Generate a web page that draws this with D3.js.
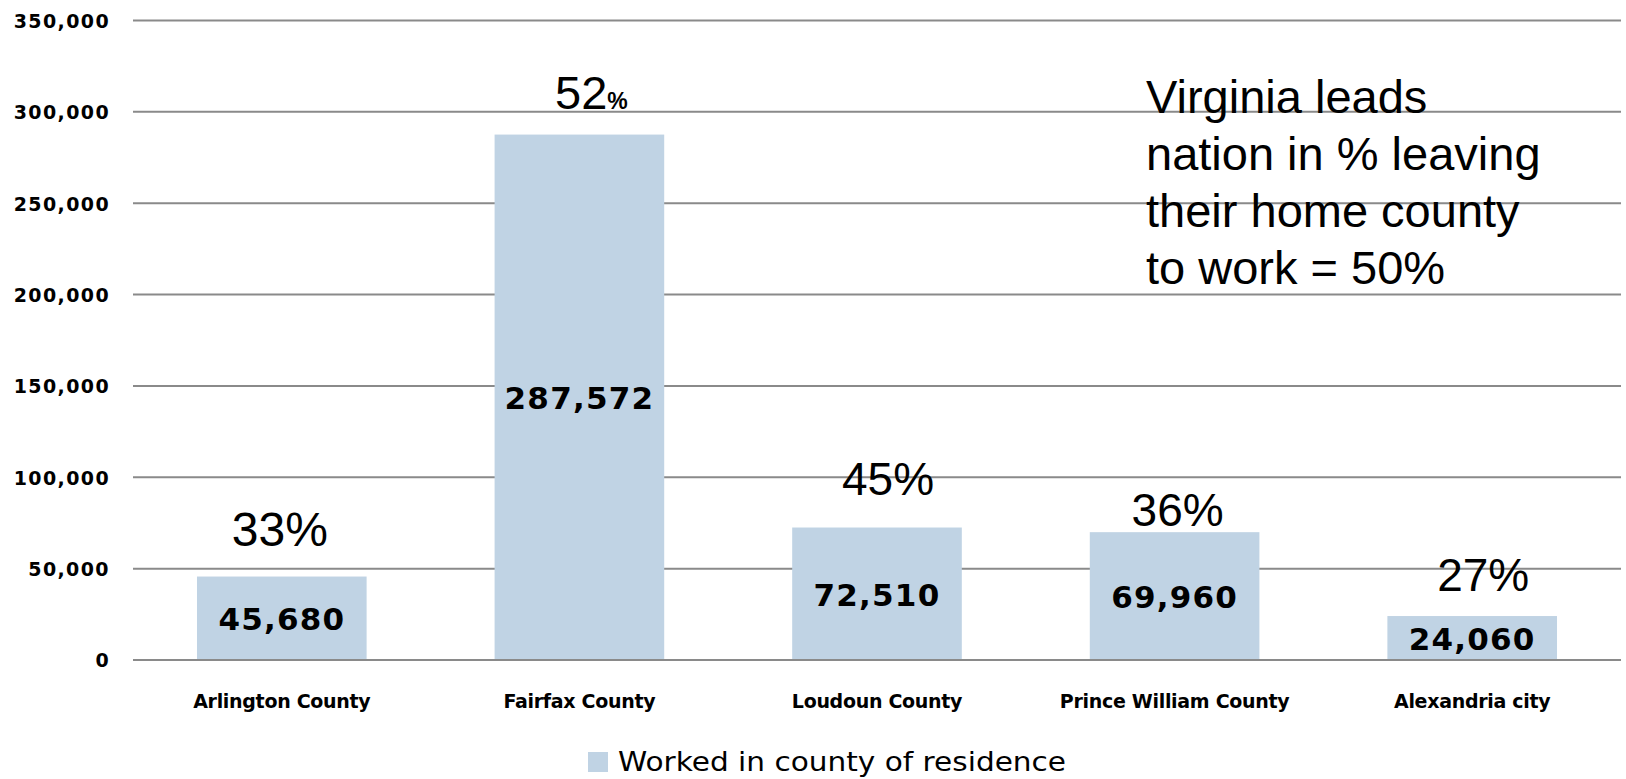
<!DOCTYPE html>
<html>
<head>
<meta charset="utf-8">
<script src="https://cdn.jsdelivr.net/npm/d3@7"></script>
<style>
  html, body { margin: 0; padding: 0; background: #fff; }
  svg { display: block; }
</style>
</head>
<body>
<svg id="chart" width="1626" height="779"></svg>
<script>
// ---- data ----
const categories = ["Arlington County", "Fairfax County", "Loudoun County", "Prince William County", "Alexandria city"];
const workedInCounty = [45680, 287572, 72510, 69960, 24060];
const valueLabels = ["45,680", "287,572", "72,510", "69,960", "24,060"];
const pctNumbers = ["33", "52", "45", "36", "27"];
const yTicks = [0, 50000, 100000, 150000, 200000, 250000, 300000, 350000];
const seriesName = "Worked in county of residence";
const noteLines = ["Virginia leads", "nation in % leaving", "their home county", "to work = 50%"];

// label placement nudges (layout, relative to bar top/centre)
const pctDx = [-2, 12, 11, 3, 11];
const pctDy = [-31, -26, -33, -6, -25];

// ---- layout ----
const svg = d3.select("#chart");
const plotLeft = 133, plotRight = 1621, plotTop = 20.5, plotBottom = 660;
const barColor = "#c0d3e4";
const gridColor = "#8a8a8a";

const x = d3.scaleBand().domain(categories).range([plotLeft, plotRight]).paddingInner(0.43).paddingOuter(0.215);
const y = d3.scaleLinear().domain([0, 350000]).range([plotBottom, plotTop]);

// gridlines
svg.append("g").selectAll("line").data(yTicks).join("line")
  .attr("x1", plotLeft).attr("x2", plotRight)
  .attr("y1", d => y(d)).attr("y2", d => y(d))
  .attr("stroke", gridColor).attr("stroke-width", 2);

// y axis labels
const yAxis = d3.axisLeft(y).tickValues(yTicks).tickSize(0).tickPadding(0)
  .tickFormat(d3.format(","));
svg.append("g").attr("transform", `translate(110,0)`).call(yAxis)
  .call(g => g.select(".domain").remove())
  .selectAll("text")
  .attr("font-family", "'DejaVu Sans'")
  .attr("font-weight", "bold")
  .attr("font-size", 19)
  .attr("letter-spacing", 1.4)
  .attr("fill", "#000")
  .attr("dy", "0.36em");

// bars
svg.append("g").selectAll("rect").data(workedInCounty).join("rect")
  .attr("x", (d, i) => x(categories[i]))
  .attr("width", x.bandwidth())
  .attr("y", d => y(d))
  .attr("height", d => y(0) - y(d))
  .attr("fill", barColor);

// redraw zero line over bars
svg.append("line").attr("x1", plotLeft).attr("x2", plotRight)
  .attr("y1", y(0)).attr("y2", y(0))
  .attr("stroke", gridColor).attr("stroke-width", 2);

// value labels inside bars
svg.append("g").selectAll("text").data(workedInCounty).join("text")
  .attr("x", (d, i) => x(categories[i]) + x.bandwidth() / 2)
  .attr("y", d => (y(d) + y(0)) / 2 + 12)
  .attr("text-anchor", "middle")
  .attr("font-family", "'DejaVu Sans'")
  .attr("font-weight", "bold")
  .attr("font-size", 31)
  .attr("letter-spacing", 1.2)
  .attr("fill", "#000")
  .text((d, i) => valueLabels[i]);

// percent labels above bars
const pg = svg.append("g").selectAll("text").data(workedInCounty).join("text")
  .attr("x", (d, i) => x(categories[i]) + x.bandwidth() / 2 + pctDx[i])
  .attr("y", (d, i) => y(d) + pctDy[i])
  .attr("text-anchor", "middle")
  .attr("font-family", "'Liberation Sans', Arial, sans-serif")
  .attr("font-size", (d, i) => i === 0 ? 48 : (i === 1 ? 47 : 46))
  .attr("fill", "#000");
pg.append("tspan").text((d, i) => pctNumbers[i]);
pg.append("tspan")
  .attr("font-size", (d, i) => i === 1 ? 23 : null)
  .attr("font-weight", (d, i) => i === 1 ? "bold" : null)
  .text("%");

// category labels
svg.append("g").selectAll("text").data(categories).join("text")
  .attr("x", d => x(d) + x.bandwidth() / 2)
  .attr("y", 708)
  .attr("text-anchor", "middle")
  .attr("font-family", "'DejaVu Sans'")
  .attr("font-weight", "bold")
  .attr("font-size", 19)
  .attr("letter-spacing", -0.3)
  .attr("fill", "#000")
  .text(d => d);

// annotation
const note = svg.append("text")
  .attr("x", 1146).attr("y", 113)
  .attr("font-family", "'Liberation Sans', Arial, sans-serif")
  .attr("font-size", 47)
  .attr("fill", "#000");
note.selectAll("tspan").data(noteLines).join("tspan")
  .attr("x", 1146)
  .attr("dy", (d, i) => i === 0 ? 0 : 57)
  .text(d => d);

// legend
const legend = svg.append("g");
legend.append("rect").attr("x", 588).attr("y", 752).attr("width", 20).attr("height", 20).attr("fill", barColor);
legend.append("text")
  .attr("x", 618).attr("y", 771)
  .attr("font-family", "'DejaVu Sans'")
  .attr("font-size", 26)
  .attr("textLength", 448)
  .attr("lengthAdjust", "spacingAndGlyphs")
  .attr("fill", "#000")
  .text(seriesName);
</script>
</body>
</html>
